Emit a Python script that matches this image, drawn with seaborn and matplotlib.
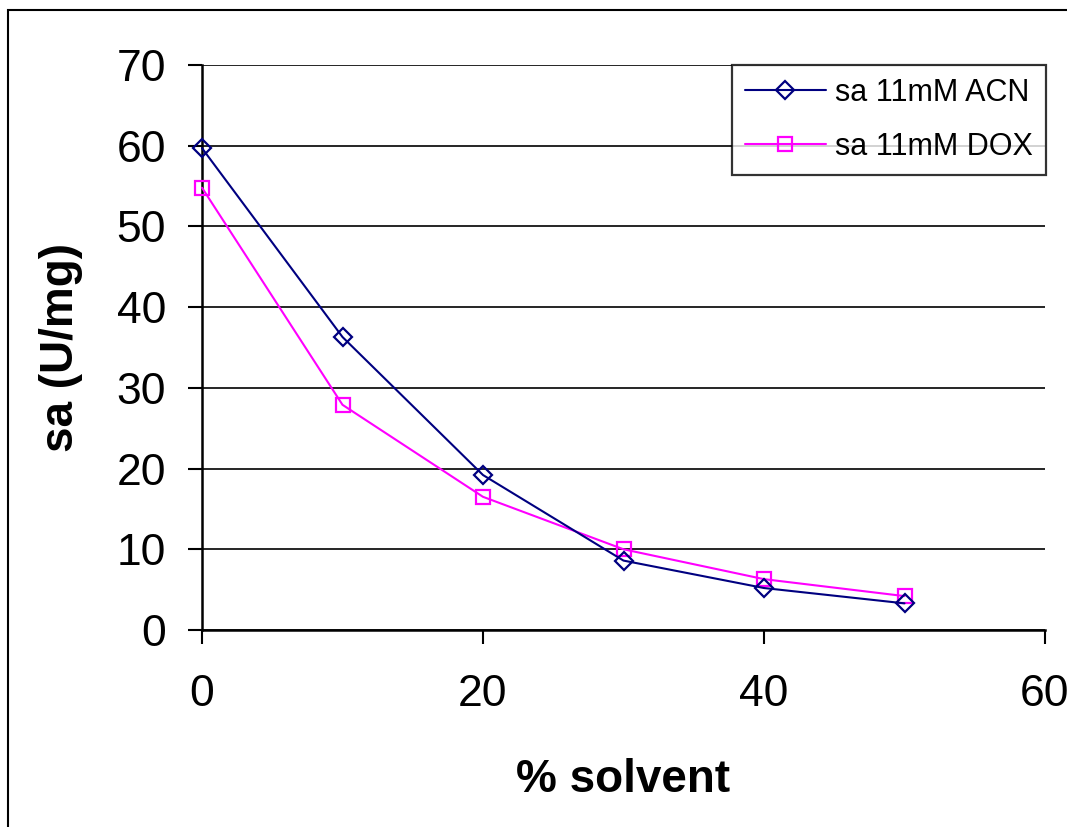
import matplotlib
matplotlib.use("Agg")
import matplotlib.pyplot as plt
import seaborn as sns
import pandas as pd
from matplotlib.patches import Rectangle

solvent_pct = [0, 10, 20, 30, 40, 50]
sa_acn = [59.7, 36.3, 19.2, 8.6, 5.2, 3.3]
sa_dox = [54.8, 27.9, 16.5, 10.0, 6.3, 4.2]
series_labels = ["sa 11mM ACN", "sa 11mM DOX"]
x_ticks = [0, 20, 40, 60]
y_ticks = [0, 10, 20, 30, 40, 50, 60, 70]

sns.set_theme(style="white")
plt.rcParams['font.family'] = ['Liberation Sans', 'DejaVu Sans']
plt.rcParams['text.color'] = 'black'
plt.rcParams['axes.labelcolor'] = 'black'

fig = plt.figure(figsize=(10.67, 8.27), dpi=100)
ax = fig.add_axes([202/1067, 1 - 630/827, (1045-202)/1067, (630-65)/827])

df_acn = pd.DataFrame({"x": solvent_pct, "y": sa_acn})
df_dox = pd.DataFrame({"x": solvent_pct, "y": sa_dox})

sns.lineplot(data=df_acn, x="x", y="y", ax=ax, color="#000080", lw=1.5,
             marker="D", markersize=9.5, markerfacecolor="none",
             markeredgecolor="#000080", markeredgewidth=1.6,
             label=series_labels[0], zorder=4, clip_on=False)
sns.lineplot(data=df_dox, x="x", y="y", ax=ax, color="#FF00FF", lw=1.5,
             marker="s", markersize=10, markerfacecolor="none",
             markeredgecolor="#FF00FF", markeredgewidth=1.6,
             label=series_labels[1], zorder=3, clip_on=False)

ax.set_xlim(0, 60)
ax.set_ylim(0, 70)
ax.set_xticks(x_ticks)
ax.set_yticks(y_ticks)
ax.yaxis.grid(True, color="black", lw=1.2)
ax.xaxis.grid(False)
ax.set_axisbelow(True)
for s in ["top", "right"]:
    ax.spines[s].set_visible(False)
for s in ["left", "bottom"]:
    ax.spines[s].set_color("black")
    ax.spines[s].set_linewidth(1.8)
ax.tick_params(axis="both", direction="out", length=10, width=1.5,
               color="black", labelsize=32, labelcolor="black",
               bottom=True, left=True)
ax.tick_params(axis="y", pad=16)
ax.tick_params(axis="x", pad=22)
for lbl in ax.get_xticklabels():
    lbl.set_clip_on(False)

ax.set_xlabel("% solvent", fontsize=33, fontweight="bold", labelpad=31,
              color="black")
ax.set_ylabel("sa (U/mg)", fontsize=33, fontweight="bold", labelpad=24,
              color="black")

leg = ax.legend(loc="upper right", bbox_to_anchor=(1.001, 1.0), fontsize=22,
                frameon=True, fancybox=False, edgecolor="black",
                borderpad=0.42, handlelength=2.65, labelspacing=0.78,
                handletextpad=0.3, borderaxespad=0)
leg.get_frame().set_linewidth(1.6)
for t in leg.get_texts():
    t.set_color("black")

fig.patches.append(Rectangle((8/1067, -0.5), 2, 0.5 + 1 - 10/827,
                             transform=fig.transFigure, fill=False,
                             edgecolor="black", lw=1.5))

fig.savefig("out.png", dpi=100, facecolor="white")
